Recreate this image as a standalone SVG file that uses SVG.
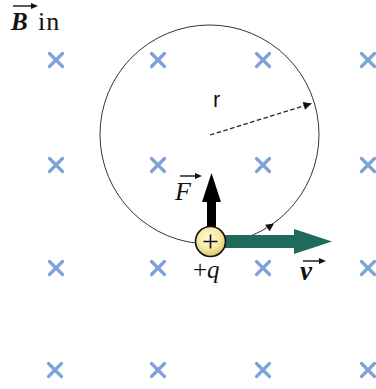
<svg xmlns="http://www.w3.org/2000/svg" width="376" height="389" viewBox="0 0 376 389">
  <defs>
    <style>
      .x { stroke: #7fa2d6; stroke-width: 3.2; stroke-linecap: round; fill: none; }
      .serif { font-family: "Liberation Serif", "Times New Roman", serif; fill: #111; }
      .sans { font-family: "Liberation Sans", Arial, sans-serif; fill: #111; }
      .vec { stroke: #111; stroke-width: 1.4; fill: none; }
      .vechead { fill: #111; }
    </style>
    <symbol id="xmark" overflow="visible">
      <path class="x" d="M-6.5,-6.5 L6.5,6.5 M6.5,-6.5 L-6.5,6.5"/>
    </symbol>
    <marker id="ah" viewBox="0 0 10 10" refX="10" refY="5" markerWidth="11" markerHeight="8" markerUnits="userSpaceOnUse" orient="auto">
      <path d="M0,0 L10,5 L0,10 Z" fill="#111"/>
    </marker>
    <radialGradient id="chg" cx="0.45" cy="0.4" r="0.6">
      <stop offset="0" stop-color="#fffbe0"/>
      <stop offset="0.6" stop-color="#f7eaa6"/>
      <stop offset="1" stop-color="#dcc56a"/>
    </radialGradient>
  </defs>

  <rect width="376" height="389" fill="#ffffff"/>

  <g id="field">
    <use href="#xmark" x="56" y="60"/>
    <use href="#xmark" x="158" y="60"/>
    <use href="#xmark" x="263" y="60"/>
    <use href="#xmark" x="368" y="60"/>
    <use href="#xmark" x="56" y="165"/>
    <use href="#xmark" x="158" y="165"/>
    <use href="#xmark" x="263" y="165"/>
    <use href="#xmark" x="368" y="165"/>
    <use href="#xmark" x="56" y="268"/>
    <use href="#xmark" x="158" y="268"/>
    <use href="#xmark" x="263" y="268"/>
    <use href="#xmark" x="368" y="268"/>
    <use href="#xmark" x="55" y="370"/>
    <use href="#xmark" x="158" y="370"/>
    <use href="#xmark" x="263" y="370"/>
    <use href="#xmark" x="368" y="370"/>
  </g>

  <g id="orbit">
    <circle cx="209.5" cy="134.5" r="109.5" fill="none" stroke="#333" stroke-width="1"/>
  </g>

  <g id="connectors">
    <!-- radius arrow -->
    <line x1="210" y1="135" x2="311.5" y2="103.5" stroke="#222" stroke-width="1.3" stroke-dasharray="4.5,2.5" marker-end="url(#ah)"/>
    <!-- direction arrow on orbit -->
    <path d="M263,231 L274,223.5" stroke="none" fill="none" marker-end="url(#ah)"/>
    <!-- force arrow -->
    <path d="M207,228 L207,202 L202,202 L211.5,173 L221,202 L216,202 L216,228 Z" fill="#000"/>
    <!-- velocity arrow -->
    <path d="M224,235 L294,235 L294,229 L332,241.5 L294,254 L294,248 L224,248 Z" fill="#1f6b5b"/>
  </g>

  <g id="charge">
    <circle cx="210.5" cy="241.5" r="15" fill="url(#chg)" stroke="#111" stroke-width="1.6"/>
    <path d="M203.5,241.5 H217.5 M210.5,234.5 V248.5" stroke="#111" stroke-width="1.6"/>
  </g>

  <g id="labels">
    <g id="label-B">
      <line class="vec" x1="13" y1="6" x2="33" y2="6"/>
      <path class="vechead" d="M38,6 L31,3 L31,9 Z"/>
      <text class="serif" x="11" y="30" font-size="25" font-weight="bold" font-style="italic">B</text>
      <text class="serif" x="38" y="30" font-size="26" letter-spacing="1">in</text>
    </g>
    <text id="label-r" class="sans" x="213" y="107" font-size="22">r</text>
    <g id="label-F">
      <line class="vec" x1="180" y1="176" x2="196" y2="176"/>
      <path class="vechead" d="M202,176 L195,173 L195,179 Z"/>
      <text class="serif" x="175" y="200" font-size="26" font-style="italic">F</text>
    </g>
    <g id="label-q">
      <text class="serif" x="193" y="278" font-size="25">+<tspan font-style="italic">q</tspan></text>
    </g>
    <g id="label-v">
      <line class="vec" x1="303" y1="261" x2="320" y2="261"/>
      <path class="vechead" d="M326,261 L319,258 L319,264 Z"/>
      <text class="serif" x="300" y="280" font-size="27" font-weight="bold" font-style="italic">v</text>
    </g>
  </g>
</svg>
